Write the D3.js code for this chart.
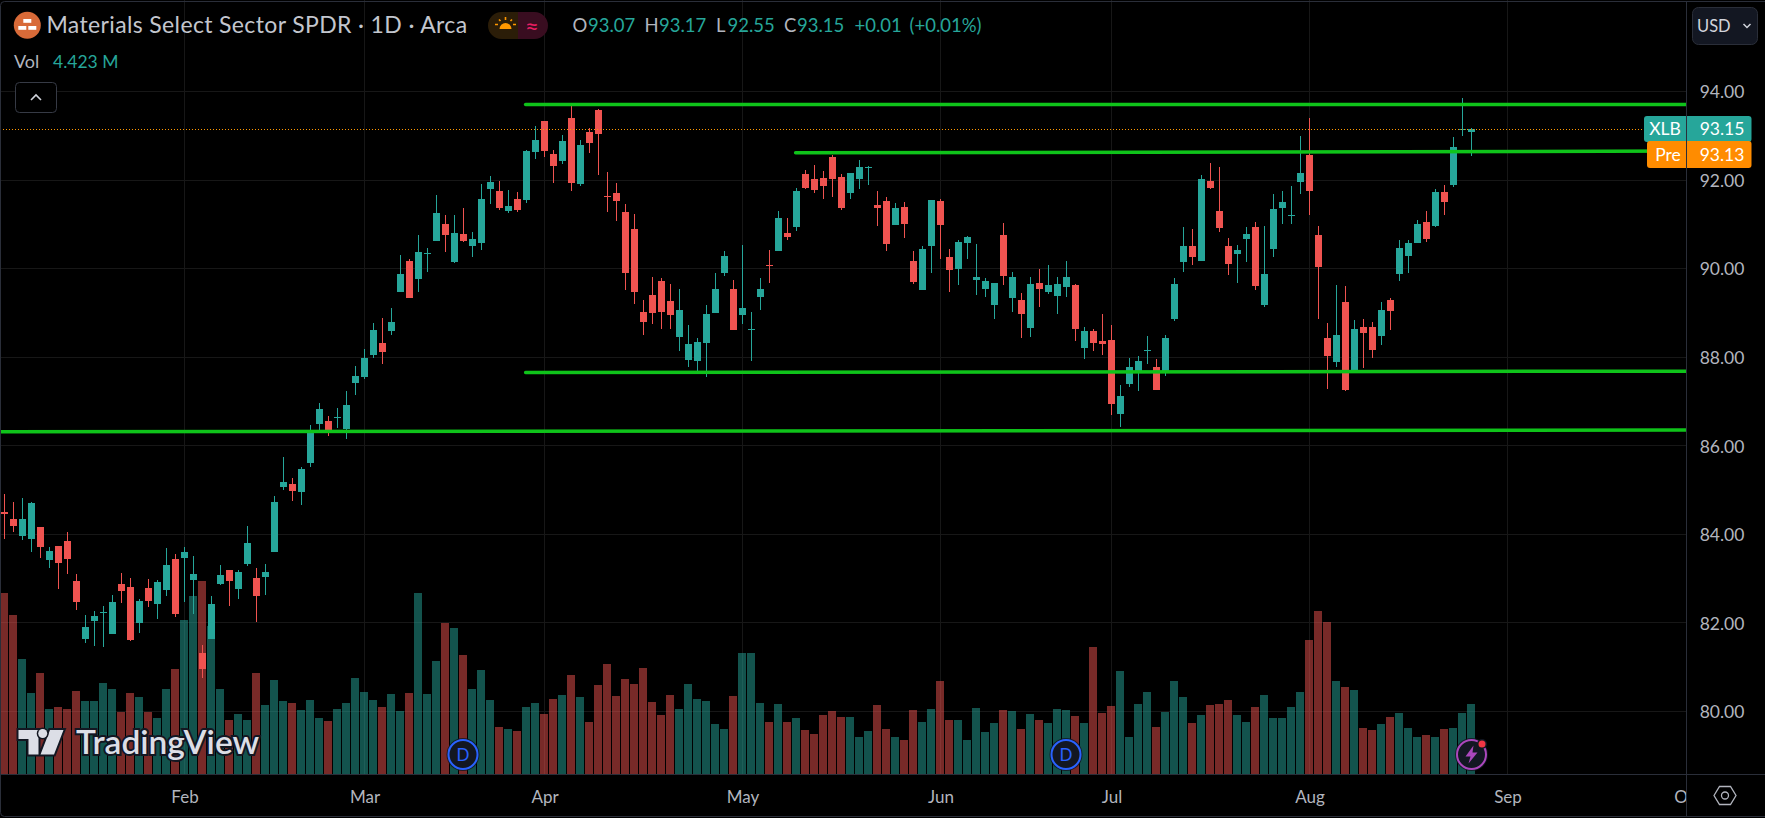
<!DOCTYPE html>
<html>
<head>
<meta charset="utf-8">
<script src="https://cdn.jsdelivr.net/npm/d3@7"></script>
<style>
	html, body { margin: 0; padding: 0; background: #000; overflow: hidden; }
	text { font-family: Lato, "Noto Sans", sans-serif; }
</style>
</head>
<body>
<svg id="chart" width="1765" height="818"></svg>
<script>
// daily candles
const opens = [84.50,84.34,83.96,83.89,84.16,83.42,83.73,83.84,82.94,81.63,82.04,82.22,81.74,82.87,82.81,81.99,82.78,82.42,82.74,83.44,83.46,82.96,81.31,81.63,82.87,83.19,82.76,83.33,83.01,83.03,83.60,85.06,85.13,84.95,85.61,86.49,86.55,86.62,86.37,87.41,87.55,88.04,88.31,88.59,89.47,90.17,89.76,90.32,90.62,91.00,90.14,90.78,90.51,90.57,91.79,91.75,91.30,91.57,91.54,92.63,93.33,92.58,92.42,93.40,91.91,93.08,93.58,91.63,91.70,91.27,90.89,89.01,89.40,89.71,89.26,88.45,87.93,87.91,88.31,88.99,89.90,89.53,88.95,88.61,89.35,90.08,90.39,90.80,90.93,92.13,92.02,92.04,92.51,92.06,91.70,92.02,92.27,91.43,91.52,90.98,91.39,90.17,89.51,90.51,91.52,90.26,89.99,90.57,89.74,89.53,89.17,90.75,89.33,89.29,88.65,89.67,89.47,89.38,89.58,89.62,88.20,88.59,88.36,88.38,86.71,87.39,87.66,88.13,87.77,87.68,88.86,90.14,90.51,90.17,91.97,91.30,90.51,90.32,90.66,90.93,89.17,90.44,91.36,91.18,91.95,92.56,90.75,88.43,87.89,89.24,87.70,88.68,88.68,88.47,89.29,89.87,90.28,90.57,91.05,90.96,91.72,91.88,93.13,93.07];
const highs = [84.91,84.72,84.82,84.72,84.16,83.71,83.73,84.05,83.10,82.17,82.26,82.38,82.62,83.12,83.01,82.53,82.99,82.96,83.69,83.55,83.71,83.51,81.50,82.60,83.30,83.19,83.19,84.18,83.23,83.33,84.86,85.74,85.27,85.51,86.46,86.96,86.67,86.85,87.23,87.80,88.18,88.77,88.88,89.11,90.30,90.21,90.75,90.46,91.66,91.21,91.21,91.36,90.82,91.91,92.09,91.97,91.77,91.72,92.67,93.21,93.33,92.67,93.01,93.71,92.90,93.17,93.60,92.18,91.93,91.45,91.23,89.29,89.81,89.78,89.65,89.53,88.72,88.43,89.17,89.90,90.39,89.74,90.53,89.01,89.78,90.41,91.30,91.14,91.81,92.22,92.33,92.20,92.56,92.13,92.15,92.45,92.31,91.75,91.61,91.48,91.50,90.39,90.51,91.54,91.57,90.44,90.64,90.73,90.55,89.78,89.67,91.02,89.92,89.44,89.81,89.99,90.08,89.81,90.17,89.65,88.68,88.63,88.97,88.72,87.37,87.98,88.02,88.47,87.95,88.50,89.78,90.93,90.89,92.11,92.38,92.29,90.69,90.53,90.93,91.05,90.96,91.68,91.75,91.86,92.99,93.40,90.96,88.77,89.62,89.60,88.83,88.86,88.79,89.24,89.33,90.64,90.64,91.09,91.30,91.79,91.88,92.97,93.85,93.17];
const lows = [83.89,84.05,83.87,83.60,83.46,83.23,82.76,83.10,82.29,81.54,81.47,81.45,81.74,82.44,81.59,81.77,82.35,82.08,82.60,82.13,82.47,82.20,80.75,81.63,82.85,82.38,82.53,83.28,82.01,82.62,83.60,85.00,84.75,84.66,85.51,86.35,86.21,86.40,86.15,87.14,87.50,87.98,87.84,88.50,89.47,89.33,89.47,89.92,90.62,90.37,90.12,90.60,90.26,90.41,91.45,91.32,91.25,91.27,91.48,92.47,92.51,91.93,92.36,91.75,91.86,92.61,92.11,91.27,91.07,89.51,89.20,88.50,88.74,88.63,88.63,88.13,87.77,87.68,87.55,88.99,89.83,88.61,88.74,87.91,89.06,89.67,90.39,90.64,90.84,91.79,91.70,91.57,91.61,91.32,91.57,91.79,91.88,90.96,90.39,90.98,90.69,89.65,89.51,89.90,90.21,89.47,89.62,90.21,89.40,89.35,88.86,89.62,89.01,88.43,88.45,89.13,89.42,88.97,89.35,88.36,87.95,88.13,88.04,86.69,86.42,87.32,87.23,87.84,87.25,87.57,88.81,89.92,90.08,90.17,91.79,90.82,89.85,89.67,90.14,89.51,89.13,90.26,91.00,91.00,91.68,91.21,88.86,87.28,87.77,87.23,87.68,87.75,87.98,88.27,88.61,89.71,89.90,90.57,90.60,90.93,91.21,91.84,92.99,92.55];
const closes = [84.45,84.18,84.34,84.70,83.71,83.62,83.35,83.44,82.47,81.90,82.15,82.24,82.47,82.71,81.61,82.49,82.49,82.92,83.30,82.20,83.60,83.10,80.95,82.42,83.08,82.94,83.14,83.80,82.60,83.14,84.72,85.18,84.97,85.47,86.33,86.82,86.28,86.64,86.91,87.57,87.98,88.61,88.11,88.79,89.87,89.33,90.37,90.35,91.25,90.75,90.80,90.62,90.66,91.57,91.95,91.36,91.41,91.32,92.65,92.90,92.65,92.31,92.88,91.93,92.79,92.83,93.03,91.61,91.52,89.90,89.47,88.79,88.99,89.01,88.95,89.06,88.29,88.34,88.97,89.53,90.28,88.61,89.11,88.63,89.53,90.05,91.14,90.71,91.75,91.81,91.77,91.86,92.02,91.36,92.15,92.29,92.29,91.36,90.55,91.36,91.00,89.69,90.44,91.54,90.98,89.96,90.60,90.71,89.81,89.71,89.67,89.83,89.81,88.97,89.65,89.53,89.62,89.65,89.81,88.63,88.59,88.31,88.29,86.94,87.12,87.77,87.91,88.16,87.25,88.43,89.65,90.51,90.26,92.02,91.81,90.91,90.10,90.41,90.78,89.60,89.87,91.34,91.50,91.21,92.15,91.75,90.03,88.02,88.50,87.25,88.63,88.54,88.16,89.06,89.04,90.46,90.57,91.00,90.66,91.72,91.50,92.74,93.15,93.15];
// volume in millions
const volumes = [11.44,10.05,7.27,5.12,6.38,4.11,4.23,4.11,5.25,4.61,4.61,5.75,5.37,3.92,5.12,4.87,3.92,3.54,5.37,6.64,9.73,11.25,12.20,9.35,5.37,3.41,3.79,3.41,6.38,4.36,5.94,4.61,4.49,4.04,4.68,3.54,3.35,4.11,4.49,6.07,5.18,4.68,4.23,5.06,3.98,5.12,11.44,5.06,7.14,9.54,9.23,7.52,5.37,6.57,4.68,2.97,2.84,2.72,4.23,4.49,3.79,4.74,4.99,6.26,4.87,3.29,5.62,6.95,4.93,6.00,5.69,6.70,4.55,3.73,4.99,4.11,5.69,4.74,4.61,3.16,2.84,4.93,7.65,7.65,4.49,3.29,4.42,3.29,3.54,2.78,2.53,3.73,3.98,3.60,3.60,2.34,2.72,4.36,2.84,2.34,2.15,4.04,3.29,4.11,5.88,3.41,3.41,2.15,4.17,2.65,3.22,4.04,3.98,2.84,3.79,3.41,3.22,4.11,4.04,3.67,3.22,8.03,3.86,4.30,6.51,2.34,4.42,5.18,2.97,3.92,5.88,4.87,3.22,3.73,4.36,4.42,4.68,3.73,3.29,4.23,4.99,3.54,3.54,4.23,5.18,8.47,10.30,9.61,5.88,5.50,5.31,2.91,2.78,3.16,3.60,3.86,2.91,2.34,2.46,2.34,2.84,2.91,3.86,4.42];

const priceTicks = [94, 92, 90, 88, 86, 84, 82, 80];
const monthLabels = ['Feb', 'Mar', 'Apr', 'May', 'Jun', 'Jul', 'Aug', 'Sep', 'Oct'];
const monthBars = [20, 40, 60, 82, 104, 123, 145, 167, 187];

// drawn support / resistance lines: from bar, to bar, from price, to price
const levelFrom = [57.9, 87.9, 57.9, -0.5];
const levelTo = [186.9, 186.9, 186.9, 186.9];
const levelStart = [93.70, 92.61, 87.65, 86.31];
const levelEnd = [93.70, 92.65, 87.68, 86.35];

const dividendBars = [51, 118];
const earningsBar = 163;

const legendParts = [
	{ t: 'O', c: '#b2b5be', x: 572.5 }, { t: '93.07', c: '#26a69a', x: 588 },
	{ t: 'H', c: '#b2b5be', x: 644.5 }, { t: '93.17', c: '#26a69a', x: 659 },
	{ t: 'L', c: '#b2b5be', x: 716 }, { t: '92.55', c: '#26a69a', x: 727.5 },
	{ t: 'C', c: '#b2b5be', x: 784 }, { t: '93.15', c: '#26a69a', x: 797 },
	{ t: '+0.01', c: '#26a69a', x: 854.5 }, { t: '(+0.01%)', c: '#26a69a', x: 909.5 },
];

const UP = '#26a69a';
const DOWN = '#ef5350';
const AXIS = '#2a2e39';
const GRID = '#171717';
const LABEL = '#b2b5be';
const plotRight = 1686;
const plotBottom = 774;

const svg = d3.select('#chart');

const x = d3.scaleLinear().domain([0, 187]).range([4.5, 1687.5]);
const y = d3.scaleLinear().domain([80, 94]).range([711.5, 91.5]);
const vol = d3.scaleLinear().domain([0, 4.42]).range([plotBottom, 704]);

// candle edges snap to the pixel grid
const py = (p) => Math.round(y(p) - 0.2);

svg.append('rect').attr('width', 1765).attr('height', 818).attr('fill', '#000');

svg.append('defs').append('clipPath').attr('id', 'plot')
	.append('rect').attr('width', plotRight).attr('height', plotBottom);
svg.append('defs').append('clipPath').attr('id', 'timeaxis')
	.append('rect').attr('y', plotBottom).attr('width', plotRight).attr('height', 44);

const plot = svg.append('g').attr('clip-path', 'url(#plot)');

// grid
plot.append('g').selectAll('line').data(priceTicks).enter().append('line')
	.attr('x1', 0).attr('x2', plotRight)
	.attr('y1', (d) => Math.floor(y(d)) + 0.5)
	.attr('y2', (d) => Math.floor(y(d)) + 0.5)
	.attr('stroke', GRID);
plot.append('g').selectAll('line').data(monthBars).enter().append('line')
	.attr('y1', 0).attr('y2', plotBottom)
	.attr('x1', (d) => x(d)).attr('x2', (d) => x(d))
	.attr('stroke', GRID);

const bars = d3.range(opens.length);
const colorOf = (i) => (closes[i] >= opens[i] ? UP : DOWN);

// volume
plot.append('g').selectAll('rect').data(bars).enter().append('rect')
	.attr('x', (i) => x(i) - 4.5)
	.attr('width', 8)
	.attr('y', (i) => Math.round(vol(volumes[i])))
	.attr('height', (i) => plotBottom - Math.round(vol(volumes[i])))
	.attr('fill', colorOf)
	.attr('fill-opacity', 0.5);

// candles
const candle = plot.append('g').selectAll('g').data(bars).enter().append('g');
candle.append('rect')
	.attr('x', (i) => x(i) - 0.5)
	.attr('width', 1)
	.attr('y', (i) => py(highs[i]))
	.attr('height', (i) => py(lows[i]) - py(highs[i]))
	.attr('fill', colorOf);
candle.append('rect')
	.attr('x', (i) => x(i) - 3.5)
	.attr('width', 7)
	.attr('y', (i) => py(Math.max(opens[i], closes[i])))
	.attr('height', (i) => Math.max(1, py(Math.min(opens[i], closes[i])) - py(Math.max(opens[i], closes[i]))))
	.attr('fill', colorOf);

// last price dotted line
plot.append('line')
	.attr('x1', 0).attr('x2', 1644)
	.attr('y1', Math.floor(y(93.15)) + 0.5).attr('y2', Math.floor(y(93.15)) + 0.5)
	.attr('stroke', '#ff9800').attr('stroke-dasharray', '1 2');

// levels
plot.append('g').selectAll('line').data(levelFrom).enter().append('line')
	.attr('x1', (d) => x(d))
	.attr('x2', (d, i) => x(levelTo[i]))
	.attr('y1', (d, i) => y(levelStart[i]) - 0.2)
	.attr('y2', (d, i) => y(levelEnd[i]) - 0.2)
	.attr('stroke', '#0fc31a')
	.attr('stroke-width', 3.5)
	.attr('stroke-linecap', 'round');

// price axis
const yAxis = d3.axisRight(y).tickValues(priceTicks).tickSize(0).tickPadding(0).tickFormat(d3.format('.2f'));
const yg = svg.append('g').attr('transform', 'translate(1722,0)').call(yAxis);
yg.select('.domain').remove();
yg.selectAll('text')
	.attr('text-anchor', 'middle')
	.attr('font-size', 17.5)
	.attr('font-family', 'Lato')
	.attr('fill', LABEL)
	.attr('dy', '0.36em');

// time axis
const xAxis = d3.axisBottom(x).tickValues(monthBars).tickSize(0).tickPadding(0)
	.tickFormat((d, i) => monthLabels[i]);
const xg = svg.append('g').attr('clip-path', 'url(#timeaxis)')
	.append('g').attr('transform', `translate(0,${plotBottom})`).call(xAxis);
xg.select('.domain').remove();
xg.selectAll('text')
	.attr('y', 23)
	.attr('dy', '0.36em')
	.attr('font-size', 17)
	.attr('font-family', 'Lato')
	.attr('fill', LABEL);

// price tags
function priceTag(name, value, color, left, top, height) {
	svg.append('rect').attr('x', left).attr('y', top).attr('width', 1751.5 - left).attr('height', height)
		.attr('rx', 3).attr('fill', color);
	svg.append('text').attr('x', left + 21).attr('y', top + height / 2).attr('dy', '0.36em')
		.attr('text-anchor', 'middle').attr('font-size', 17.5).attr('fill', '#fff').text(name);
	svg.append('text').attr('x', 1722).attr('y', top + height / 2).attr('dy', '0.36em')
		.attr('text-anchor', 'middle').attr('font-size', 17.5).attr('fill', '#fff').text(value);
}
priceTag('XLB', '93.15', '#26a69a', 1644, 116, 26);
priceTag('Pre', '93.13', '#ff8c00', 1647, 141, 27);

// pane separators
svg.append('line').attr('x1', plotRight + 0.5).attr('x2', plotRight + 0.5).attr('y1', 2).attr('y2', 816).attr('stroke', AXIS);
svg.append('line').attr('x1', 1).attr('x2', 1765).attr('y1', plotBottom + 0.5).attr('y2', plotBottom + 0.5).attr('stroke', AXIS);
svg.append('rect').attr('x', 0.5).attr('y', 1.5).attr('width', 1770).attr('height', 815).attr('rx', 4)
	.attr('fill', 'none').attr('stroke', AXIS);

// header
const head = svg.append('g');
head.append('circle').attr('cx', 27.3).attr('cy', 25.3).attr('r', 13.5).attr('fill', '#d86a38');
[[23.3, 19], [18.3, 26], [28.3, 26]].forEach((b) => {
	head.append('rect').attr('x', b[0]).attr('y', b[1]).attr('width', 8).attr('height', 3.8).attr('fill', '#fff');
});
head.append('text').attr('x', 46.5).attr('y', 33).attr('font-size', 23).attr('letter-spacing', 0.36).attr('fill', '#c3c6ce')
	.text('Materials Select Sector SPDR · 1D · Arca');

head.append('path').attr('d', 'M518,12H501.5a13.5,13.5 0 0 0 0,27H518Z').attr('fill', '#2b1d08');
head.append('path').attr('d', 'M518,12H534.5a13.5,13.5 0 0 1 0,27H518Z').attr('fill', '#390d20');
head.append('path').attr('d', 'M499.5,29a6,6 0 0 1 12,0Z').attr('fill', '#ff9800');
head.append('path').attr('d', 'M495,24.5h3M513,24.5h3M505.5,17v3M499,19.5l1.5,1.5M512,19.5l-1.5,1.5').attr('stroke', '#ff9800').attr('stroke-width', 1.6);
head.append('text').attr('x', 532).attr('y', 25.5).attr('dy', '0.36em').attr('text-anchor', 'middle')
	.attr('font-size', 24).attr('font-family', 'DejaVu Sans').attr('fill', '#e91e63').text('≈');

head.selectAll('.legend').data(legendParts).enter().append('text')
	.attr('class', 'legend')
	.attr('x', (d) => d.x).attr('y', 32).attr('font-size', 18.5)
	.attr('fill', (d) => d.c).text((d) => d.t);

head.append('text').attr('x', 14).attr('y', 68).attr('font-size', 18).attr('fill', '#b2b5be').text('Vol');
head.append('text').attr('x', 53).attr('y', 68).attr('font-size', 17.5).attr('fill', '#26a69a').text('4.423 M');

head.append('rect').attr('x', 15.5).attr('y', 82.5).attr('width', 41).attr('height', 30).attr('rx', 4)
	.attr('fill', '#000').attr('stroke', '#363a45');
head.append('path').attr('d', 'M31,100l5,-5l5,5').attr('fill', 'none').attr('stroke', '#d1d4dc').attr('stroke-width', 1.6);

// currency button
head.append('rect').attr('x', 1692.5).attr('y', 7.5).attr('width', 65).attr('height', 37).attr('rx', 6)
	.attr('fill', '#131722').attr('stroke', '#2a2e39');
head.append('text').attr('x', 1697).attr('y', 32).attr('font-size', 16.5).attr('fill', '#d1d4dc').text('USD');
head.append('path').attr('d', 'M1743.5,24l3.5,3.5l3.5,-3.5').attr('fill', 'none').attr('stroke', '#d1d4dc').attr('stroke-width', 1.5);

// scale settings hexagon
head.append('path').attr('d', 'M1714,795.5l5.5,-9h11l5.5,9l-5.5,9h-11Z').attr('fill', 'none').attr('stroke', LABEL).attr('stroke-width', 1.3);
head.append('circle').attr('cx', 1725).attr('cy', 795.5).attr('r', 3.5).attr('fill', 'none').attr('stroke', LABEL).attr('stroke-width', 1.3);

// event markers
const markerY = 754.5;
dividendBars.forEach((b) => {
	svg.append('circle').attr('cx', x(b) - 0.5).attr('cy', markerY).attr('r', 16.5).attr('fill', '#131722').attr('fill-opacity', 0.85);
	svg.append('circle').attr('cx', x(b) - 0.5).attr('cy', markerY).attr('r', 14.5).attr('fill', '#131722').attr('stroke', '#2962ff').attr('stroke-width', 2);
	svg.append('text').attr('x', x(b) - 0.5).attr('y', markerY).attr('dy', '0.36em').attr('text-anchor', 'middle')
		.attr('font-size', 17).attr('fill', '#2962ff').text('D');
});
const ex = x(earningsBar);
svg.append('circle').attr('cx', ex).attr('cy', markerY).attr('r', 16.5).attr('fill', '#131722').attr('fill-opacity', 0.85);
svg.append('circle').attr('cx', ex).attr('cy', markerY).attr('r', 14.5).attr('fill', '#131722').attr('stroke', '#ab47bc').attr('stroke-width', 2);
svg.append('path').attr('transform', `translate(${ex},${markerY})`)
	.attr('d', 'M2,-9L-6,2H-1L-3,9L6,-2H1Z').attr('fill', '#ab47bc');
svg.append('circle').attr('cx', ex + 10.5).attr('cy', 744).attr('r', 5).attr('fill', '#131722');
svg.append('circle').attr('cx', ex + 10.5).attr('cy', 744).attr('r', 3.5).attr('fill', '#f23645');

// watermark
const mark = svg.append('g');
const logoD = 'M18.5,730H38.5V754.5H28.5V739H18.5ZM50,730H63.5L54,754.5H40.5Z';
mark.append('path').attr('d', logoD).attr('fill', '#dcdee6').attr('stroke', '#131722').attr('stroke-width', 4).attr('paint-order', 'stroke');
mark.append('circle').attr('cx', 42.7).attr('cy', 733.5).attr('r', 4.5).attr('fill', '#dcdee6').attr('stroke', '#131722').attr('stroke-width', 3).attr('paint-order', 'stroke');
mark.append('text').attr('x', 76).attr('y', 754).attr('font-family', 'Inter').attr('font-weight', 600).attr('font-size', 33.5)
	.attr('fill', '#dcdee6').attr('stroke', '#131722').attr('stroke-width', 4).attr('paint-order', 'stroke').text('TradingView');
</script>
</body>
</html>
